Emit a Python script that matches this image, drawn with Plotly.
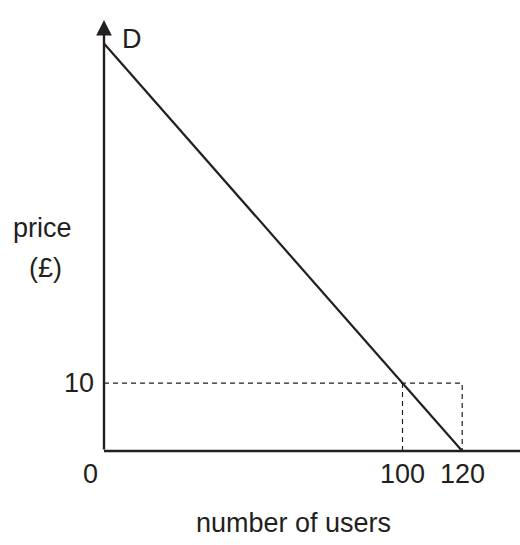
import plotly.graph_objects as go

# Schematic demand: P = 60 - 0.5 q
quantity_points = [0, 120]          # quantity at price intercept and at zero price
price_points = [60, 0]              # price intercept and zero
marked_quantity = [100, 120]        # dashed guide quantities
marked_price = [10]                 # dashed guide price
x_tick_labels = ["0", "100", "120"]
y_tick_labels = ["10"]
curve_label = "D"

INK = "#231f20"
FONT = "Liberation Sans, Arial, Helvetica, sans-serif"
FS = 27

W, H = 520, 545
OX, OY = 104, 451   # origin in figure pixels
kx, ky = 2.985, 6.79
x0 = -OX / kx
y0 = -(H - OY) / ky
xr = [x0, x0 + W / kx]
yr = [y0, y0 + H / ky]

def px(xp):
    return xp / W

def py(yp):
    return 1 - yp / H

fig = go.Figure()

q100, q120 = marked_quantity
p10 = marked_price[0]
fig.add_trace(go.Scatter(x=[0, q120, q120], y=[p10, p10, 0], mode="lines",
                         line=dict(color=INK, width=1.2, dash="5px,4px"),
                         hoverinfo="skip", showlegend=False))
fig.add_trace(go.Scatter(x=[q100, q100], y=[p10, 0], mode="lines",
                         line=dict(color=INK, width=1.2, dash="5px,4px"),
                         hoverinfo="skip", showlegend=False))

fig.add_trace(go.Scatter(x=quantity_points, y=price_points, mode="lines",
                         line=dict(color=INK, width=2.2),
                         hoverinfo="skip", showlegend=False))

# axes
y_top = (OY - 20) / ky
fig.add_shape(type="line", xref="x", yref="y", x0=0, x1=xr[1], y0=0, y1=0,
              line=dict(color=INK, width=2.6))
fig.add_annotation(x=0, y=y_top, ax=0, ay=0, xref="x", yref="y", axref="x", ayref="y",
                   showarrow=True, arrowhead=2, arrowsize=1.3, arrowwidth=2.4,
                   arrowcolor=INK, text="")

ann_font = dict(family=FONT, size=FS, color=INK)
tick_x = [0] + marked_quantity
shifts = [-14, 0, 0]
for xv, lab, sh in zip(tick_x, x_tick_labels, shifts):
    fig.add_annotation(x=xv, y=0, xref="x", yref="y", text=lab, showarrow=False,
                       xanchor="center", yanchor="middle", xshift=sh, yshift=-23, font=ann_font)
fig.add_annotation(x=0, y=p10, xref="x", yref="y", text=y_tick_labels[0], showarrow=False,
                   xanchor="right", yanchor="middle", xshift=-8, font=ann_font)
fig.add_annotation(x=0, y=price_points[0], xref="x", yref="y", text=curve_label, showarrow=False,
                   xanchor="left", yanchor="middle", xshift=16, yshift=5, font=ann_font)
fig.add_annotation(x=px(42), y=py(228), xref="paper", yref="paper", text="price",
                   showarrow=False, xanchor="center", yanchor="middle", font=ann_font)
fig.add_annotation(x=px(45), y=py(268), xref="paper", yref="paper", text="(£)",
                   showarrow=False, xanchor="center", yanchor="middle", font=ann_font)
fig.add_annotation(x=px(293), y=py(523), xref="paper", yref="paper", text="number of users",
                   showarrow=False, xanchor="center", yanchor="middle", font=ann_font)

fig.update_layout(
    width=W, height=H, margin=dict(l=0, r=0, t=0, b=0),
    paper_bgcolor="white", plot_bgcolor="white",
    xaxis=dict(range=xr, visible=False, fixedrange=True),
    yaxis=dict(range=yr, visible=False, fixedrange=True),
    showlegend=False,
)

fig.write_html(
    "out.html",
    config={"displayModeBar": False},
    post_script="document.body.style.margin='0';document.body.style.overflow='hidden';",
)
